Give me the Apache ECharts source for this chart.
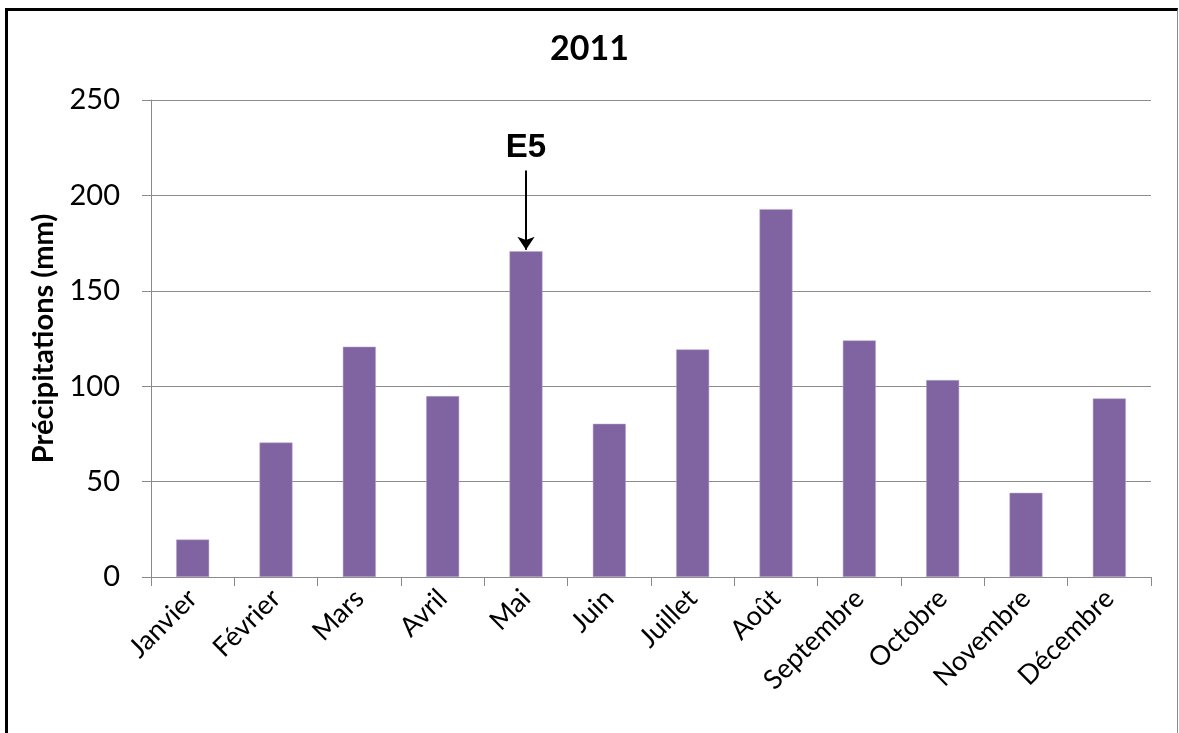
<!DOCTYPE html>
<html>
<head>
<meta charset="utf-8">
<script src="https://cdn.jsdelivr.net/npm/echarts@6/dist/echarts.min.js"></script>
<style>
html,body{margin:0;padding:0;background:#fff;}
#chart{width:1179px;height:733px;position:absolute;left:0;top:0;}
#frame{position:absolute;left:5px;top:8px;width:1173px;height:760px;border-left:3px solid #000;border-top:3px solid #000;border-right:1px solid #8a8a8a;pointer-events:none;box-sizing:border-box;}
</style>
</head>
<body>
<div id="chart"></div>
<div id="frame"></div>
<script>
const title = '2011';
const categories = ['Janvier','Février','Mars','Avril','Mai','Juin','Juillet','Août','Septembre','Octobre','Novembre','Décembre'];
const precipitations = [19.6, 70.5, 120.7, 94.8, 170.7, 80.3, 119.3, 192.8, 124.0, 103.2, 44.1, 93.6];
const yAxisName = 'Précipitations (mm)';
const annotationLabel = 'E5';
const annotationMonth = 'Mai';
const annotationFrom = 213;
const annotationTo = 171.5;

const chart = echarts.init(document.getElementById('chart'), null, {renderer:'canvas'});
const font = 'Lato';
chart.setOption({
  animation: false,
  backgroundColor: '#ffffff',
  title: {
    text: title, left: 'center', top: 27,
    textStyle: {fontFamily: font, fontSize: 34, fontWeight: 'bold', color: '#000'}
  },
  grid: {left: 151, right: 28, top: 100, bottom: 156, containLabel: false},
  xAxis: {
    type: 'category', data: categories,
    axisLine: {show: true, lineStyle: {color: '#8a8a8a', width: 1}},
    axisTick: {show: true, length: 9, lineStyle: {color: '#8a8a8a'}},
    axisLabel: {rotate: 45, margin: 17, color: '#000', fontFamily: font, fontSize: 27, interval: 0}
  },
  yAxis: {
    type: 'value', min: 0, max: 250, interval: 50,
    name: yAxisName, nameLocation: 'middle', nameGap: 86, nameRotate: 90,
    nameTextStyle: {fontFamily: font, fontSize: 29, fontWeight: 'bold', color: '#000'},
    axisLine: {show: true, lineStyle: {color: '#8a8a8a', width: 1}},
    axisTick: {show: true, length: 9, lineStyle: {color: '#8a8a8a'}},
    axisLabel: {margin: 31, color: '#000', fontFamily: font, fontSize: 29},
    splitLine: {show: true, lineStyle: {color: '#8c8c8c', width: 1}}
  },
  series: [{
    type: 'bar', data: precipitations, barWidth: 33,
    itemStyle: {color: '#8064A2', borderColor: '#b9a8cc', borderWidth: 0.5},
    markLine: {
      silent: true,
      animation: false,
      lineStyle: {type: 'solid', color: '#000', width: 2},
      label: {show: true, position: 'start', formatter: annotationLabel, distance: 6,
        fontFamily: 'Liberation Sans', fontWeight: 'bold', fontSize: 33, color: '#000'},
      data: [[
        {coord: [annotationMonth, annotationFrom], symbol: 'none'},
        {coord: [annotationMonth, annotationTo], symbol: 'arrow', symbolSize: [13, 13]}
      ]]
    }
  }]
});
</script>
</body>
</html>
